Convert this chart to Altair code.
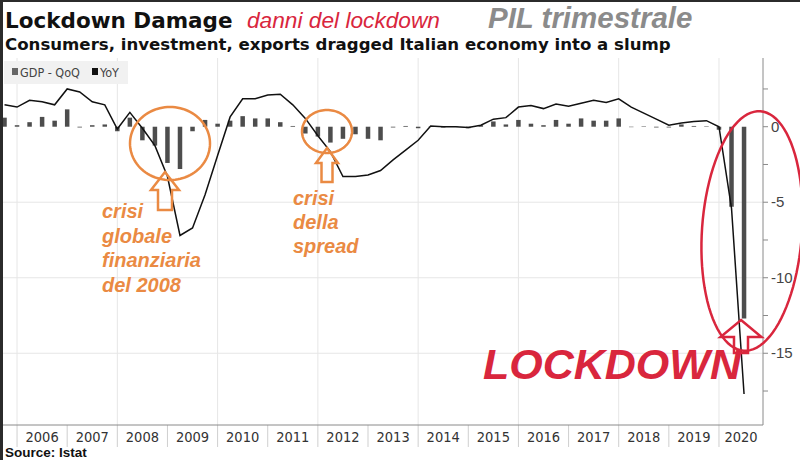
import altair as alt
import pandas as pd
import numpy as np

# ---------------- data ----------------
quarters = [
    "2005Q3", "2005Q4",
    "2006Q1", "2006Q2", "2006Q3", "2006Q4",
    "2007Q1", "2007Q2", "2007Q3", "2007Q4",
    "2008Q1", "2008Q2", "2008Q3", "2008Q4",
    "2009Q1", "2009Q2", "2009Q3", "2009Q4",
    "2010Q1", "2010Q2", "2010Q3", "2010Q4",
    "2011Q1", "2011Q2", "2011Q3", "2011Q4",
    "2012Q1", "2012Q2", "2012Q3", "2012Q4",
    "2013Q1", "2013Q2", "2013Q3", "2013Q4",
    "2014Q1", "2014Q2", "2014Q3", "2014Q4",
    "2015Q1", "2015Q2", "2015Q3", "2015Q4",
    "2016Q1", "2016Q2", "2016Q3", "2016Q4",
    "2017Q1", "2017Q2", "2017Q3", "2017Q4",
    "2018Q1", "2018Q2", "2018Q3", "2018Q4",
    "2019Q1", "2019Q2", "2019Q3", "2019Q4",
    "2020Q1", "2020Q2",
]
gdp_qoq = [
    0.6, 0.1,
    0.3, 0.65, 0.4, 1.15,
    -0.05, 0.1, 0.15, -0.3,
    0.6, -0.9, -1.25, -2.4,
    -2.8, -0.3, 0.45, 0.2,
    0.4, 0.7, 0.55, 0.55,
    0.3, 0.05, -0.45, -0.65,
    -1.05, -0.8, -0.5, -0.8,
    -0.9, -0.05, 0.05, -0.1,
    0.02, -0.05, 0.02, -0.1,
    0.1, 0.35, 0.15, 0.45,
    0.2, 0.1, 0.45, 0.2,
    0.55, 0.4, 0.4, 0.55,
    -0.03, 0.03, -0.05, -0.05,
    0.15, 0.05, 0.03, -0.2,
    -5.3, -12.7,
]
gdp_yoy = [
    1.45, 1.3,
    1.75, 1.65, 1.45, 2.5,
    2.3, 1.65, 1.45, -0.15,
    0.95, -0.1, -1.25, -3.3,
    -7.2, -6.7, -4.5, -1.9,
    0.65, 1.85, 1.85, 2.1,
    2.15, 1.45, 0.55, -0.6,
    -1.65, -3.3, -3.3, -3.2,
    -2.9, -2.2, -1.55, -0.9,
    0.05, 0.0, 0.0, -0.05,
    0.1, 0.5, 0.6, 1.3,
    1.4, 1.2, 1.5, 1.35,
    1.55, 1.75, 1.6, 1.85,
    1.3, 0.9, 0.5, 0.1,
    0.25, 0.35, 0.4, 0.0,
    -5.4, -17.7,
]
years = [2006, 2007, 2008, 2009, 2010, 2011, 2012, 2013,
         2014, 2015, 2016, 2017, 2018, 2019, 2020]
grid_years = [2006, 2008, 2010, 2012, 2014, 2016, 2018, 2020]
grid_values = [-15, -10, -5]
y_ticks = [-17.5, -15, -12.5, -10, -7.5, -5, -2.5, 0, 2.5]
y_labels = [-15, -10, -5, 0]

X_MIN, X_MAX = 2005.70, 2020.878
Y_MIN, Y_MAX = -19.75, 4.55

# quarters are plotted at the end of the quarter
t = [int(q[:4]) + int(q[-1]) / 4 for q in quarters]
df = pd.DataFrame({"t": t, "qoq": gdp_qoq, "yoy": gdp_yoy, "q": quarters})

xlab = pd.DataFrame({"yr": years})
xlab["mid"] = [(y + min(y + 1, X_MAX)) / 2 for y in years]
xlab["label"] = [str(y) for y in years]
ylab = pd.DataFrame({"v": y_labels, "label": [str(v) for v in y_labels]})

# ---------------- layout ----------------
W, H = 761, 367
PL, PT = 2, 58
RED = "#d9263d"
ORANGE = "#ea8a43"
SANS = "Liberation Sans, Arial, sans-serif"
COND = "DejaVu Sans Condensed, DejaVu Sans, sans-serif"

x_scale = alt.Scale(domain=[X_MIN, X_MAX], nice=False, zero=False, padding=0)
y_scale = alt.Scale(domain=[Y_MIN, Y_MAX], nice=False, zero=False, padding=0)

X = alt.X("t:Q", scale=x_scale, axis=None)

one = pd.DataFrame({"a": [0]})


def px(x):
    return x - PL


def py(y):
    return y - PT


def ellipse_path(rx, ry, n=96):
    s = max(rx, ry)
    pts = []
    for i in range(n):
        a = 2 * np.pi * i / n
        pts.append((rx * np.cos(a) / s, ry * np.sin(a) / s))
    d = "M " + " L ".join(f"{x:.4f} {y:.4f}" for x, y in pts) + " Z"
    return d, (2 * s) ** 2


def arrow_path(h, hw, hh, sw):
    s = max(h, hw) / 2
    pts = [(0, -h / 2), (hw / 2, -h / 2 + hh), (sw / 2, -h / 2 + hh), (sw / 2, h / 2),
           (-sw / 2, h / 2), (-sw / 2, -h / 2 + hh), (-hw / 2, -h / 2 + hh)]
    d = "M " + " L ".join(f"{x / s:.4f} {y / s:.4f}" for x, y in pts) + " Z"
    return d, (2 * s) ** 2


# ---------------- grid & axes (drawn as marks) ----------------
vgrid = alt.Chart(pd.DataFrame({"g": grid_years})).mark_rule(
    color="#e6e6e6", strokeWidth=1).encode(x=alt.X("g:Q", scale=x_scale, axis=None))
hgrid = alt.Chart(pd.DataFrame({"v": grid_values})).mark_rule(
    color="#e6e6e6", strokeWidth=1).encode(y=alt.Y("v:Q", scale=y_scale, axis=None))
dividers = alt.Chart(xlab).mark_rule(color="#cfcfcf", strokeWidth=1).encode(
    x=alt.X("yr:Q", scale=x_scale, axis=None), y=alt.value(H), y2=alt.value(H + 22))
x_labels = alt.Chart(xlab).mark_text(
    fontSize=14.5, font=COND, color="#333333", align="center", baseline="alphabetic").encode(
    x=alt.X("mid:Q", scale=x_scale, axis=None), y=alt.value(H + 17), text="label:N")
x_domain = alt.Chart(one).mark_rule(color="#8a8a8a", strokeWidth=1).encode(
    x=alt.value(0), x2=alt.value(W), y=alt.value(H))
y_domain = alt.Chart(one).mark_rule(color="#8a8a8a", strokeWidth=1).encode(
    x=alt.value(W), y=alt.value(0), y2=alt.value(H))
y_tickmarks = alt.Chart(pd.DataFrame({"v": y_ticks})).mark_rule(
    color="#8a8a8a", strokeWidth=1).encode(
    y=alt.Y("v:Q", scale=y_scale, axis=None), x=alt.value(W), x2=alt.value(W + 5))
y_labels_layer = alt.Chart(ylab).mark_text(
    fontSize=15, font=SANS, color="#444444", align="left", baseline="middle").encode(
    y=alt.Y("v:Q", scale=y_scale, axis=None), x=alt.value(W + 8), text="label:N")

legend_bg = alt.Chart(one).mark_rect(
    x=px(4), x2=px(128), y=py(61), y2=py(84), color="#f1f1f1")

# ---------------- data marks ----------------
bars = alt.Chart(df).mark_bar(size=4.5, color="#4d4d4d").encode(
    x=X, y=alt.Y("qoq:Q", scale=y_scale, axis=None), y2=alt.datum(0))
line = alt.Chart(df).mark_line(color="#111111", strokeWidth=1.5).encode(
    x=X, y=alt.Y("yoy:Q", scale=y_scale, axis=None))

# ---------------- texts ----------------
texts = []


def add_text(txt, x, y, size, font, color, weight="normal", style="normal", lh=None):
    kw = dict(text=txt, x=px(x), y=py(y), fontSize=size, font=font, color=color,
              fontWeight=weight, fontStyle=style, align="left", baseline="alphabetic")
    if lh is not None:
        kw["lineHeight"] = lh
    texts.append(alt.Chart(one).mark_text(**kw))


add_text("Lockdown Damage", 5, 28, 21.5, "DejaVu Sans", "#111111", weight="bold")
add_text("danni del lockdown", 247, 28, 22.7, SANS, RED, style="italic")
add_text("PIL trimestrale", 488, 28, 29.5, SANS, "#8b8b8b", weight="bold", style="italic")
add_text("Consumers, investment, exports dragged Italian economy into a slump", 5, 50, 16.6,
         "DejaVu Sans", "#111111", weight="bold")
add_text("GDP - QoQ", 20, 77, 12.5, COND, "#444444")
add_text("YoY", 100, 77, 12.5, COND, "#444444")
add_text("Source: Istat", 5, 457, 13.5, SANS, "#111111", weight="bold")
add_text(["crisi", "globale", "finanziaria", "del 2008"], 102, 218, 20, SANS, ORANGE,
         weight="bold", style="italic", lh=24.5)
add_text(["crisi", "della", "spread"], 293, 205, 20, SANS, ORANGE,
         weight="bold", style="italic", lh=24)
add_text("LOCKDOWN", 483, 379, 43, SANS, RED, weight="bold", style="italic")

legend_sq = [
    alt.Chart(one).mark_rect(x=px(12), x2=px(18), y=py(68), y2=py(75), color="#666666"),
    alt.Chart(one).mark_rect(x=px(92), x2=px(98), y=py(68), y2=py(75), color="#111111"),
]

# ---------------- hand-drawn annotations ----------------
shapes = []


def add_shape(path_size, cx, cy, color, width=2.5, angle=0):
    d, size = path_size
    kw = dict(shape=d, size=size, x=px(cx), y=py(cy), filled=False, stroke=color,
              strokeWidth=width, opacity=1)
    if angle:
        kw["angle"] = angle
    shapes.append(alt.Chart(one).mark_point(**kw))


add_shape(ellipse_path(40, 36.5), 170, 143.5, ORANGE)
add_shape(ellipse_path(25, 21.5), 327, 131.5, ORANGE)
add_shape(ellipse_path(50, 120), 752, 231, RED, angle=4)
add_shape(arrow_path(38, 28, 18, 14), 165, 191, ORANGE)
add_shape(arrow_path(34, 22, 15, 11), 327, 165, ORANGE)
add_shape(arrow_path(33, 41, 17, 14), 741, 336.5, RED)

frame = [
    alt.Chart(one).mark_rect(x=px(0), x2=px(3), y=py(0), y2=py(460), color="#2b2b2b"),
    alt.Chart(one).mark_rect(x=px(0), x2=px(800), y=py(0), y2=py(2), color="#2b2b2b"),
]

chart = alt.layer(
    vgrid, hgrid, dividers, legend_bg, bars, line,
    x_domain, y_domain, y_tickmarks, y_labels_layer, x_labels,
    *legend_sq, *texts, *shapes, *frame
).properties(
    width=W, height=H,
    autosize=alt.AutoSizeParams(type="none"),
    padding={"left": PL, "top": PT, "right": 800 - PL - W, "bottom": 460 - PT - H},
    background="white",
).configure_view(stroke=None)

chart.save("out.html", embed_options={"renderer": "svg", "actions": False})
